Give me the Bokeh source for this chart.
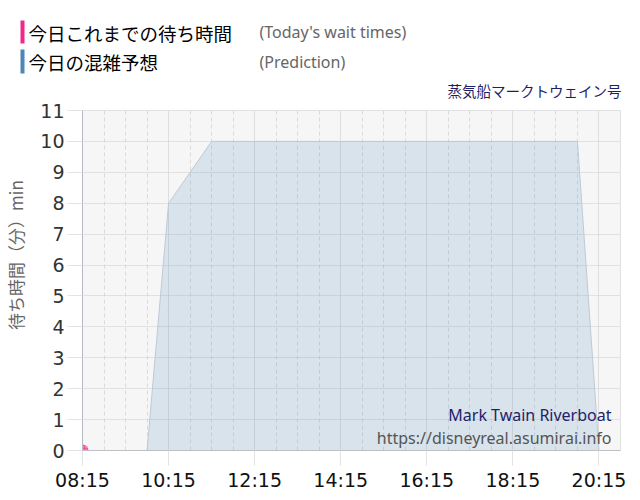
from bokeh.plotting import figure
from bokeh.models import Label, FixedTicker, Range1d, ColumnDataSource
from bokeh.layouts import column, row
from bokeh.core.properties import value
from bokeh.embed import file_html
from bokeh.resources import INLINE

# ---- data ----
pred_times = ["08:15", "08:45", "09:15", "09:45", "10:15", "10:45", "11:15", "11:45",
              "12:15", "12:45", "13:15", "13:45", "14:15", "14:45", "15:15", "15:45",
              "16:15", "16:45", "17:15", "17:45", "18:15", "18:45", "19:15", "19:45",
              "20:15", "20:45"]
pred_values = [0, 0, 0, 0, 8, 9, 10, 10,
               10, 10, 10, 10, 10, 10, 10, 10,
               10, 10, 10, 10, 10, 10, 10, 10,
               0, 0]
today_times = ["08:15"]
today_values = [0]
x_tick_labels = ["08:15", "10:15", "12:15", "14:15", "16:15", "18:15", "20:15"]
y_ticks = [0, 1, 2, 3, 4, 5, 6, 7, 8, 9, 10, 11]

legend_jp = ["今日これまでの待ち時間", "今日の混雑予想"]
legend_en = ["(Today's wait times)", "(Prediction)"]
legend_colors = ["#f0288c", "#4f86b8"]
attraction_jp = "蒸気船マークトウェイン号"
attraction_en = "Mark Twain Riverboat"
site_url = "https://disneyreal.asumirai.info"
y_label = "待ち時間（分）min"


def to_min(t):
    hh, mm = t.split(":")
    return int(hh) * 60 + int(mm)


x_start = to_min("08:15")
x_end = to_min("20:45")

W = 636
jp = "Noto Sans CJK JP"

# ---- header (legend + attraction name) ----
HH = 100
h = figure(width=W, height=HH, output_backend="svg", toolbar_location=None,
           x_range=Range1d(0, W), y_range=Range1d(HH, 0),
           x_axis_location=None, y_axis_location=None, min_border=0)
h.grid.visible = False
h.outline_line_color = None
h.background_fill_color = "white"
h.border_fill_color = "white"

row_top = [20, 49]
row_bot = [43, 73]
row_mid = [32, 61]
h.quad(left=[20, 20], right=[24, 24], top=row_top, bottom=row_bot,
       fill_color=legend_colors, line_color=None)
h.text(x=[28, 28], y=row_mid, text=legend_jp, text_font=value(jp),
       text_font_size="18.5px", text_color="#000000", text_baseline="middle",
       text_align="left")
h.text(x=[259, 259], y=[31, 61], text=legend_en, text_font=value("Noto Sans"),
       text_font_size="16px", text_color="#666666", text_baseline="middle",
       text_align="left")
h.text(x=[621], y=[90], text=[attraction_jp], text_font=value(jp),
       text_font_size="14.5px", text_color="#1f1f66", text_baseline="middle",
       text_align="right")

# ---- main chart ----
pred_src = ColumnDataSource(dict(x=[to_min(t) for t in pred_times], y=pred_values,
                                 y0=[0] * len(pred_values)))
today_src = ColumnDataSource(dict(x=[to_min(t) for t in today_times], y=today_values))

p = figure(width=W, height=396, output_backend="svg", toolbar_location=None,
           x_range=Range1d(x_start, x_end), y_range=Range1d(0, 11),
           min_border_left=80, min_border_right=16, min_border_top=10, min_border_bottom=46)

p.background_fill_color = "#f6f6f6"
p.border_fill_color = "white"
p.outline_line_color = "#c8c8c8"
p.outline_line_dash = "1 1"

major = [to_min(t) for t in x_tick_labels]
minor = list(range(x_start, x_end + 1, 30))
p.xaxis.ticker = FixedTicker(ticks=major, minor_ticks=minor)
p.xaxis.major_label_overrides = {to_min(t): t for t in x_tick_labels}
p.yaxis.ticker = FixedTicker(ticks=y_ticks)

for ax in (p.xaxis, p.yaxis):
    ax.major_label_text_font = "DejaVu Sans"
    ax.major_label_text_font_size = "19px"
    ax.major_tick_in = 0
    ax.major_tick_out = 15
    ax.major_tick_line_color = "#e3e3e3"
    ax.minor_tick_line_color = None
    ax.major_label_standoff = 3
p.xaxis.major_label_text_color = "#111111"
p.yaxis.major_label_text_color = "#333333"
p.xaxis.axis_line_color = "#c0c0c0"
p.yaxis.axis_line_color = "#b8b8c4"

p.yaxis.axis_label = "\u3000\u3000\u3000" + y_label
p.yaxis.axis_label_text_font = jp
p.yaxis.axis_label_text_font_size = "17px"
p.yaxis.axis_label_text_font_style = "normal"
p.yaxis.axis_label_text_color = "#666666"
p.yaxis.axis_label_standoff = 9

p.xgrid.grid_line_color = "#dedede"
p.xgrid.minor_grid_line_color = "#dadada"
p.xgrid.minor_grid_line_dash = "4 3"
p.ygrid.grid_line_color = "#cccccc"
p.ygrid.grid_line_dash = "1 1"

p.varea(x="x", y1="y0", y2="y", source=pred_src, fill_color="#4f86b8", fill_alpha=0.17)
p.line(x="x", y="y", source=pred_src, line_color="#bccad8", line_width=1)

p.scatter(x="x", y="y", source=today_src, size=12, fill_color="#ff3399",
          line_color=None, fill_alpha=0.85, hatch_pattern="dot", hatch_color="#ffffff",
          hatch_scale=3, hatch_alpha=0.6)

p.add_layout(Label(x=529, y=36, x_units="screen", y_units="screen", text=attraction_en,
                   text_font="Noto Sans", text_font_size="16px", text_color="#22226a",
                   text_align="right", text_baseline="middle"))
p.add_layout(Label(x=529, y=13, x_units="screen", y_units="screen", text=site_url,
                   text_font="Noto Sans", text_font_size="16px", text_color="#555555",
                   text_align="right", text_baseline="middle"))

open("out.html", "w").write(file_html(column(row(h, spacing=0), p, spacing=0), INLINE))
